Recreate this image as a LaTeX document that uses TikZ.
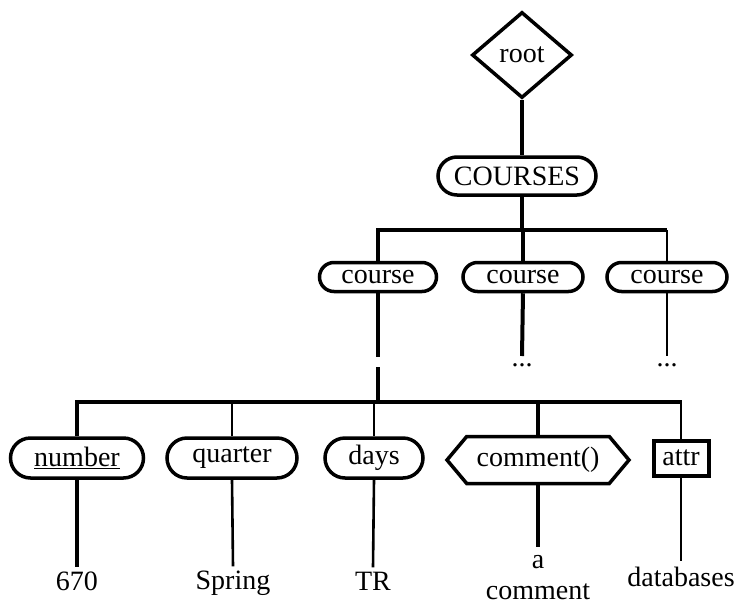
\documentclass[tikz,border=0pt]{standalone}
\usepackage{fontspec}
\setmainfont{Liberation Serif}
\usetikzlibrary{shapes.geometric,shapes.misc,shapes.symbols}
\begin{document}
\begin{tikzpicture}[x=1pt,y=-1pt,
  every node/.style={font=\fontsize{28}{32}\selectfont, inner sep=0pt},
  heavy/.style={line width=4pt},
  light/.style={line width=2.6pt},
  hair/.style={line width=2pt},
  tagbox/.style={draw, line width=3.5pt, rounded rectangle, minimum height=#1},
  tagbox/.default=40pt,
  leaf/.style={anchor=base, inner sep=4pt}]
  \useasboundingbox (0,0) rectangle (737,606);

  % root and the COURSES element
  \node[diamond, draw, line width=3.5pt, minimum width=100pt, minimum height=86pt] (root) at (522,55) {root};
  \node[tagbox=38pt, minimum width=158pt] (courses) at (517,176) {COURSES};

  % course elements
  \node[tagbox=29pt, minimum width=117pt] (c1) at (378,277) {course};
  \node[tagbox=29pt, minimum width=120pt] (c2) at (523,277) {course};
  \node[tagbox=29pt, minimum width=120pt] (c3) at (667,277) {course};
  \node[anchor=base] (d2) at (522,366) {...};
  \node[anchor=base] (d3) at (667,366) {...};

  % children of the first course
  \node[tagbox, minimum width=133pt] (num) at (77,458) {\underline{number}};
  \node[tagbox, minimum width=130pt] (qtr) at (232,458) {quarter};
  \node[tagbox, minimum width=98pt] (days) at (374,458) {days};
  \node[draw, line width=3.5pt, signal, signal to=east and west, signal pointer angle=100,
        minimum width=182pt, minimum height=47pt] (cmt) at (538,460) {comment()};
  \node[draw, line width=4pt, rectangle, minimum width=55pt, minimum height=35pt] (attr) at (681,458) {attr};

  % leaf values
  \node[leaf] (v1) at (77,590) {670};
  \node[leaf] (v2) at (233,589) {Spring};
  \node[leaf] (v3) at (373,590) {TR};
  \node[leaf, inner sep=8pt] (v4) at (538,568) {a};
  \node[anchor=base] (v4b) at (538,599) {comment};
  \node[leaf, inner sep=5pt] (v5) at (681,586) {databases};

  % junction points
  \coordinate (split) at (522,230);
  \coordinate (gapa) at (378,357);
  \coordinate (gapb) at (378,367);
  \coordinate (fork) at (378,402);

  % upper tree
  \draw[heavy] (root.south) -- (root.south |- courses.north);
  \draw[heavy] (courses.south -| split) -- (split);
  \draw[heavy, line join=miter] (c1.north) -- (c1.north |- split) -- (c3.north |- split);
  \draw[heavy] (c2.north |- split) -- (c2.north);
  \draw[light] (c3.north |- split) -- (c3.north);
  \draw[heavy] (c2.south) -- ([yshift=10pt]d2.base);
  \draw[light] (c3.south) -- ([yshift=10pt]d3.base);
  \draw[heavy] (c1.south) -- (gapa);
  \draw[heavy] (gapb) -- (fork);

  % lower tree
  \draw[heavy, line join=miter] (num.north) -- (num.north |- fork) -- ([xshift=1pt]attr.north |- fork);
  \draw[light] (qtr.north |- fork) -- (qtr.north);
  \draw[light] (days.north |- fork) -- (days.north);
  \draw[heavy] (cmt.north |- fork) -- (cmt.north);
  \draw[hair] (attr.north |- fork) -- (attr.north);

  % value links
  \draw[heavy] (num.south) -- (v1.north);
  \draw[light] (qtr.south) -- (v2.north);
  \draw[light] (days.south) -- (v3.north);
  \draw[heavy] (cmt.south) -- (v4.north);
  \draw[hair] (attr.south) -- (v5.north);
\end{tikzpicture}
\end{document}
